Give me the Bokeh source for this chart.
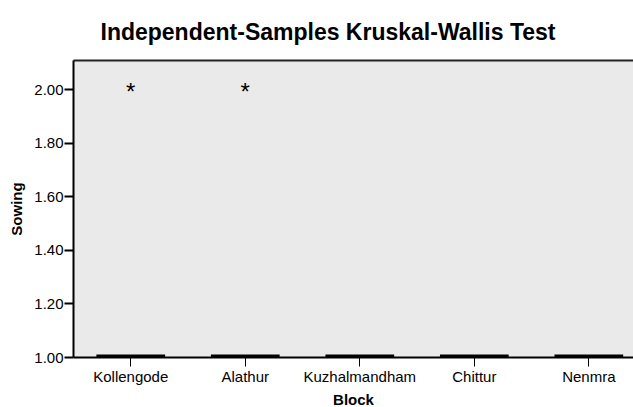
from bokeh.plotting import figure
from bokeh.models import Range1d, FixedTicker, NumeralTickFormatter, ColumnDataSource, LinearAxis
from bokeh.core.properties import value
from bokeh.embed import file_html
from bokeh.resources import INLINE

blocks = ["Kollengode", "Alathur", "Kuzhalmandham", "Chittur", "Nenmra"]
q1 = [1.0, 1.0, 1.0, 1.0, 1.0]
median = [1.0, 1.0, 1.0, 1.0, 1.0]
q3 = [1.0, 1.0, 1.0, 1.0, 1.0]
outlier_blocks = ["Kollengode", "Alathur"]
outlier_values = [2.0, 2.0]
y_ticks = [1.0, 1.2, 1.4, 1.6, 1.8, 2.0]

FONT = "Liberation Sans"
pos = list(range(1, len(blocks) + 1))
box_half = 0.3

p = figure(frame_width=560, frame_height=297, output_backend="svg", toolbar_location=None,
           x_range=Range1d(0.5, 5.39), y_range=Range1d(1.0, 2.11),
           min_border_left=73, min_border_right=0, min_border_top=60, min_border_bottom=50)

p.title.text = "Independent-Samples Kruskal-Wallis Test"
p.title.text_font = FONT
p.title.text_font_size = "23px"
p.title.text_font_style = "bold"
p.title.text_color = "black"
p.title.align = "left"
p.title.offset = 27
p.title.standoff = 32

p.background_fill_color = "#EAEAEA"
p.border_fill_color = "white"
p.outline_line_color = None
p.grid.visible = False

top_axis = LinearAxis(ticker=FixedTicker(ticks=[]), major_tick_line_color=None,
                      minor_tick_line_color=None, axis_line_color="#222222",
                      axis_line_width=2, major_label_standoff=0)
p.add_layout(top_axis, "above")

src = ColumnDataSource(dict(x=pos, q1=q1, med=median, q3=q3,
                            x0=[v - box_half for v in pos], x1=[v + box_half for v in pos]))
p.vbar(x="x", bottom="q1", top="q3", width=box_half * 2, source=src,
       fill_color="#EAEAEA", line_color="black", line_width=1)
p.segment(x0="x0", x1="x1", y0="med", y1="med", source=src, line_color="black", line_width=6)

ox = [pos[blocks.index(b)] for b in outlier_blocks]
p.text(x=ox, y=outlier_values, text=["*"] * len(ox), text_font=value(FONT),
       text_font_size="24px", text_align="center", text_baseline="middle",
       y_offset=2, text_color="black")

xa = p.below[0]
ya = p.left[0]
for ax in (xa, ya):
    ax.minor_tick_line_color = None
    ax.axis_line_color = "black"
    ax.axis_line_width = 2
    ax.major_tick_line_color = "black"
    ax.major_tick_line_width = 2
    ax.major_tick_out = 9
    ax.major_tick_in = 0
    ax.major_label_text_font = FONT
    ax.major_label_text_font_size = "15px"
    ax.major_label_text_color = "black"
    ax.axis_label_text_font = FONT
    ax.axis_label_text_font_size = "15px"
    ax.axis_label_text_font_style = "bold"
    ax.axis_label_text_color = "black"

xa.ticker = FixedTicker(ticks=pos)
xa.major_label_overrides = {i: b for i, b in zip(pos, blocks)}
xa.major_tick_line_width = 1
xa.major_label_standoff = 1
xa.axis_label = "Block"
xa.axis_label_standoff = 3

ya.ticker = FixedTicker(ticks=y_ticks)
ya.formatter = NumeralTickFormatter(format="0.00")
ya.major_label_standoff = 1
ya.axis_label = "Sowing"
ya.axis_label_standoff = 6

open("out.html", "w").write(file_html(p, INLINE))
